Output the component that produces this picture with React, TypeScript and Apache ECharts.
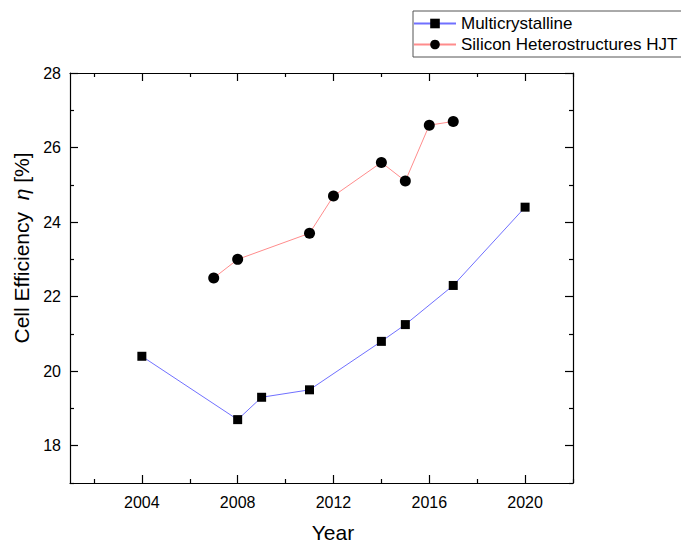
import React, { useEffect, useRef } from "react";
import * as echarts from "echarts";

const multiYears = [2004, 2008, 2009, 2011, 2014, 2015, 2017, 2020];
const multiValues = [20.4, 18.7, 19.3, 19.5, 20.8, 21.25, 22.3, 24.4];
const hjtYears = [2007, 2008, 2011, 2012, 2014, 2015, 2016, 2017];
const hjtValues = [22.5, 23.0, 23.7, 24.7, 25.6, 25.1, 26.6, 26.7];
const xMajor = [2004, 2008, 2012, 2016, 2020];
const xMinor = [2002, 2006, 2010, 2014, 2018, 2022];
const yMajor = [18, 20, 22, 24, 26, 28];
const yMinor = [17, 19, 21, 23, 25, 27];

const FONT = "'Liberation Sans', Arial, sans-serif";

export default function App() {
  const ref = useRef<HTMLDivElement>(null);
  useEffect(() => {
    if (!ref.current) return;
    const chart = echarts.init(ref.current, undefined, { renderer: "svg" });
    const lineStyle = { color: "#000", width: 1.2 };
    const mkX = (pos: string, ticks: number[], len: number, labels: boolean, line: boolean) => ({
      type: "value",
      position: pos,
      min: 2001,
      max: 2022,
      axisLine: { show: line, onZero: false, lineStyle },
      axisTick: { show: true, inside: true, length: len, customValues: ticks, lineStyle },
      axisLabel: labels
        ? {
            show: true,
            customValues: ticks,
            fontSize: 16,
            color: "#000",
            fontFamily: FONT,
            margin: 11,
            formatter: (v: number) => String(v),
          }
        : { show: false },
      splitLine: { show: false },
    });
    const mkY = (pos: string, ticks: number[], len: number, labels: boolean, line: boolean) => ({
      type: "value",
      position: pos,
      min: 17,
      max: 28,
      axisLine: { show: line, onZero: false, lineStyle },
      axisTick: { show: true, inside: true, length: len, customValues: ticks, lineStyle },
      axisLabel: labels
        ? {
            show: true,
            customValues: ticks,
            fontSize: 16,
            color: "#000",
            fontFamily: FONT,
            margin: 9,
            formatter: (v: number) => String(v),
          }
        : { show: false },
      splitLine: { show: false },
    });
    chart.setOption({
      animation: false,
      backgroundColor: "#fff",
      grid: { left: 70, top: 73, right: 108, bottom: 60, containLabel: false },
      xAxis: [
        mkX("bottom", xMajor, 8, true, true),
        mkX("bottom", xMinor, 4, false, false),
        mkX("top", xMajor, 8, false, true),
        mkX("top", xMinor, 4, false, false),
      ],
      yAxis: [
        mkY("left", yMajor, 8, true, true),
        mkY("left", yMinor, 4, false, false),
        mkY("right", yMajor, 8, false, true),
        mkY("right", yMinor, 4, false, false),
      ],
      legend: {
        orient: "vertical",
        left: 413,
        top: 15,
        padding: 0,
        itemGap: 4,
        itemWidth: 42,
        itemHeight: 12,
        textStyle: { fontSize: 17, color: "#000", fontFamily: FONT },
        data: ["Multicrystalline", "Silicon Heterostructures HJT"],
      },
      graphic: [
        {
          type: "rect",
          shape: { x: 413, y: 11, width: 300, height: 46 },
          style: { fill: "none", stroke: "#555", lineWidth: 1 },
        },
        {
          type: "text",
          x: 21,
          y: 248,
          rotation: Math.PI / 2,
          style: {
            text: "Cell Efficiency  {i|η} [%]",
            fontSize: 21,
            fontFamily: FONT,
            fill: "#000",
            align: "center",
            verticalAlign: "middle",
            textAlign: "center",
            textVerticalAlign: "middle",
            rich: { i: { fontStyle: "italic", fontSize: 21, fontFamily: FONT, fill: "#000" } },
          },
        },
        {
          type: "text",
          x: 333,
          y: 532,
          style: {
            text: "Year",
            fontSize: 21,
            fontFamily: FONT,
            fill: "#000",
            align: "center",
            verticalAlign: "middle",
            textAlign: "center",
            textVerticalAlign: "middle",
          },
        },
      ],
      series: [
        {
          name: "Multicrystalline",
          type: "line",
          xAxisIndex: 0,
          yAxisIndex: 0,
          data: multiYears.map((y, i) => [y, multiValues[i]]),
          symbol: "rect",
          symbolSize: 9,
          itemStyle: { color: "#000" },
          lineStyle: { color: "#7070ff", width: 1 },
        },
        {
          name: "Silicon Heterostructures HJT",
          type: "line",
          xAxisIndex: 0,
          yAxisIndex: 0,
          data: hjtYears.map((y, i) => [y, hjtValues[i]]),
          symbol: "circle",
          symbolSize: 11,
          itemStyle: { color: "#000" },
          lineStyle: { color: "#ff8c8c", width: 1 },
        },
      ],
    });
    return () => chart.dispose();
  }, []);
  return (
    <div
      ref={ref}
      style={{ position: "absolute", left: 0, top: 0, width: 681, height: 543 }}
    />
  );
}
